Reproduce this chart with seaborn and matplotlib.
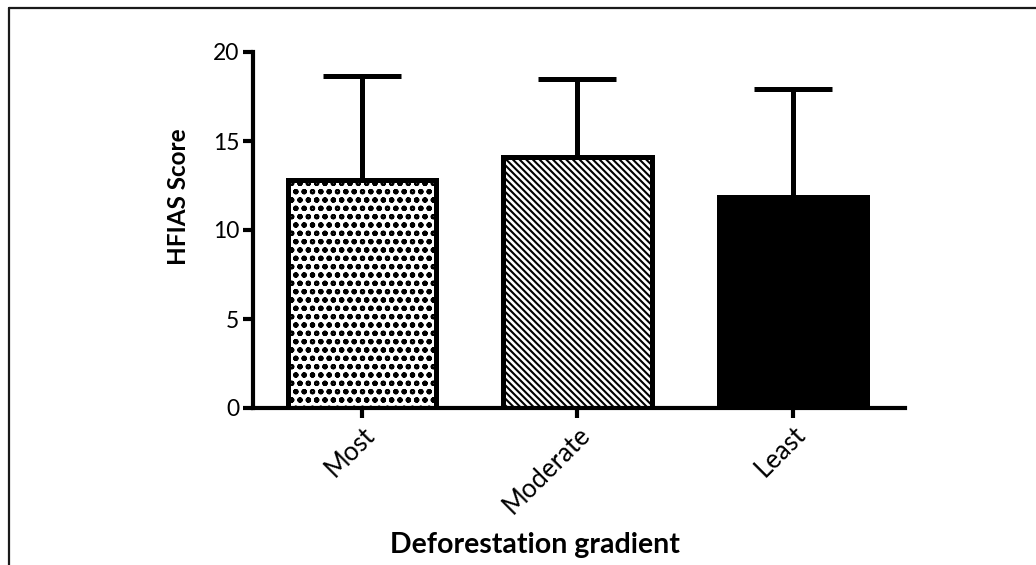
import numpy as np
import pandas as pd
import matplotlib
matplotlib.use("Agg")
import matplotlib.pyplot as plt
from matplotlib.lines import Line2D
import seaborn as sns

# HFIAS score by deforestation level (mean and SD)
groups = ["Most", "Moderate", "Least"]
mean_score = [12.8, 14.1, 11.85]
sd_score = [5.85, 4.4, 6.05]

face_colors = ["white", "white", "black"]
hatches = ["oo", "\\\\\\\\\\", ""]

sns.set_theme(style="ticks")
plt.rcParams["font.family"] = ["Lato", "DejaVu Sans"]
plt.rcParams["hatch.linewidth"] = 1.5

df = pd.DataFrame({"group": groups, "score": mean_score})

fig = plt.figure(figsize=(10.36, 5.65), dpi=100)
W, H = 1036, 565
ax = fig.add_axes([253 / W, 157 / H, (905 - 253) / W, (408 - 52) / H])

sns.barplot(data=df, x="group", y="score", order=groups, errorbar=None,
            color="white", edgecolor="black", linewidth=3.6, width=0.687,
            ax=ax, zorder=2)

for patch, fc, h in zip(ax.patches, face_colors, hatches):
    patch.set_facecolor(fc)
    patch.set_hatch(h)
    patch.set_edgecolor("black")

xpos = np.arange(len(groups))
ax.errorbar(xpos, mean_score, yerr=[np.zeros(len(groups)), sd_score],
            fmt="none", ecolor="black", elinewidth=3.6, capsize=28,
            capthick=3.6, zorder=3)

ax.set_xlim(-0.506, 2.52)
ax.set_ylim(0, 20)
ax.set_yticks([0, 5, 10, 15, 20])

sns.despine(ax=ax)
for side in ("left", "bottom"):
    ax.spines[side].set_linewidth(3)
    ax.spines[side].set_color("black")

ax.tick_params(axis="both", length=7, width=3, color="black",
               labelcolor="black", pad=3)
ax.tick_params(axis="y", labelsize=16.5)
ax.tick_params(axis="x", labelsize=18.5)
ax.set_xticks(xpos)
ax.set_xticklabels(groups, rotation=45, ha="right", rotation_mode="anchor")
ax.set_xlabel("")
ax.set_ylabel("")

fig.text(178 / W, 1 - 197 / H, "HFIAS Score", rotation=90, ha="center",
         va="center", fontsize=17.5, fontweight="bold", color="black")
fig.text(535 / W, 1 - 545 / H, "Deforestation gradient", ha="center",
         va="center", fontsize=20.5, fontweight="bold", color="black")

# outer frame (left and top edges)
fig.add_artist(Line2D([9 / W, 9 / W], [0, 1 - 8 / H], transform=fig.transFigure,
                      color="#1a1a1a", lw=1.6))
fig.add_artist(Line2D([9 / W, 1], [1 - 8 / H, 1 - 8 / H], transform=fig.transFigure,
                      color="#1a1a1a", lw=1.6))

fig.savefig("out.png", dpi=100, facecolor="white")
